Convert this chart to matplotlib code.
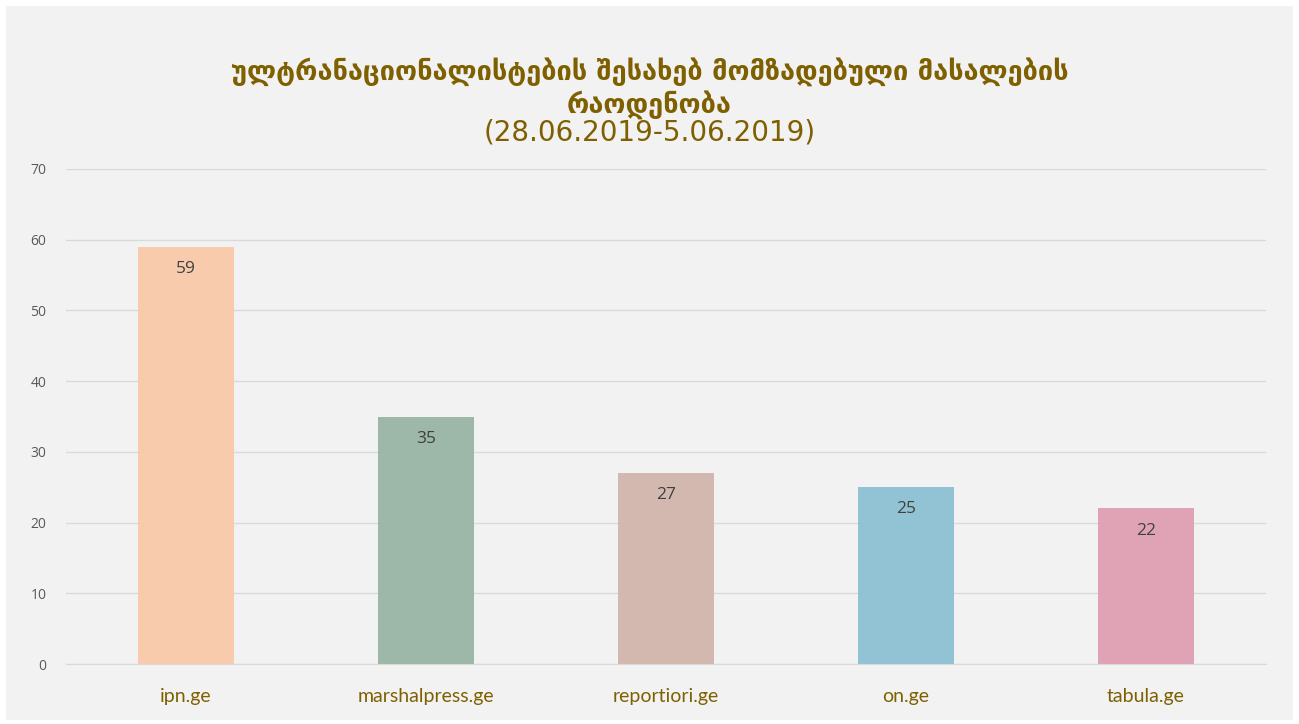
import matplotlib.pyplot as plt
from matplotlib.patches import Rectangle

# data
sites = ['ipn.ge', 'marshalpress.ge', 'reportiori.ge', 'on.ge', 'tabula.ge']
counts = [59, 35, 27, 25, 22]
bar_colors = ['#F8CBAD', '#9DB8A8', '#D3B8B0', '#92C3D4', '#DFA3B5']
yticks = [0, 10, 20, 30, 40, 50, 60, 70]

title = ('ულტრანაციონალისტების შესახებ მომზადებული მასალების\n'
         'რაოდენობა')
subtitle = '(28.06.2019-5.06.2019)'

W, H = 1299, 724
fig = plt.figure(figsize=(W / 100, H / 100), dpi=100, facecolor='white')

# grey chart area inside a thin white margin
fig.patches.append(Rectangle((6 / W, 4 / H), (W - 12) / W, (H - 10) / H,
                             transform=fig.transFigure, facecolor='#F2F2F2',
                             edgecolor='none', zorder=-10))

ax = fig.add_axes([66 / W, (H - 664) / H, 1200 / W, 495 / H])
ax.set_facecolor('#F2F2F2')

x = range(len(sites))
ax.bar(x, counts, width=0.4, color=bar_colors, zorder=3)

for xi, v in zip(x, counts):
    ax.annotate(str(v), (xi, v), xytext=(0, -16), textcoords='offset points',
                ha='center', va='center', fontsize=12.5, color='#404040',
                family='Open Sans', zorder=4)

ax.set_xlim(-0.5, len(sites) - 0.5)
ax.set_ylim(0, 70)
ax.set_yticks(yticks)
ax.set_xticks(list(x))
ax.set_xticklabels(sites, fontsize=14, color='#7F6000', family='Lato')
for lbl in ax.get_yticklabels():
    lbl.set_fontsize(10)
    lbl.set_color('#595959')
    lbl.set_family('Open Sans')
ax.tick_params(axis='both', length=0)
ax.tick_params(axis='y', pad=14)
ax.tick_params(axis='x', pad=17)

ax.yaxis.grid(True, color='#D9D9D9', linewidth=1, zorder=0)
for s in ['top', 'right', 'left']:
    ax.spines[s].set_visible(False)
ax.spines['bottom'].set_color('#D9D9D9')

fig.text(0.5, 1 - 88 / H, title, ha='center', va='center', fontsize=19.5,
         fontweight='bold', color='#7F6000', family='DejaVu Sans',
         linespacing=1.15)
fig.text(0.5, 1 - 133 / H, subtitle, ha='center', va='center', fontsize=20,
         color='#7F6000', family='DejaVu Sans')

fig.savefig('out.png', dpi=100, facecolor=fig.get_facecolor())
